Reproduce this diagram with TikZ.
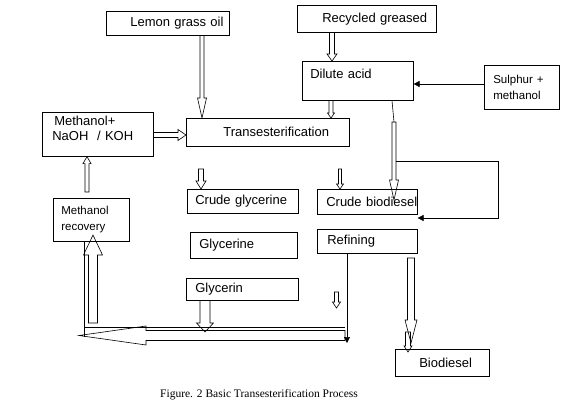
\documentclass[tikz,border=0pt]{standalone}
\usepackage{fontspec}
\setmainfont{Liberation Serif}
\setsansfont{Liberation Sans}
\usetikzlibrary{calc,arrows.meta}

% hollow block arrow: from, to, half shaft, half head, head length
\newcommand{\hollowarrow}[5]{%
  \coordinate (hb) at ($(#2)!#5!(#1)$);
  \draw ($(#1)!#3!90:(#2)$) -- ($(hb)!#3!90:(#2)$) -- ($(hb)!#4!90:(#2)$) -- (#2)
    -- ($(hb)!#4!-90:(#2)$) -- ($(hb)!#3!-90:(#2)$) -- ($(#1)!#3!-90:(#2)$) -- cycle;
}

\begin{document}
\begin{tikzpicture}[x=1pt, y=-1pt, line width=0.6pt,
  box/.style = {draw, anchor=north west, inner xsep=0pt, inner ysep=0pt, align=left,
    font=\sffamily\fontsize{13}{15}\selectfont},
  smallbox/.style = {box, font=\sffamily\fontsize{11.5}{16}\selectfont},
  tip/.style = {-{Triangle[length=6pt,width=6pt]}}]
\useasboundingbox (0,0) rectangle (567,409);

% boxes
\node[box, minimum height=24pt, text width=123pt] (lemon) at (106,11) {\hspace*{24pt}Lemon grass oil};
\node[box, minimum height=27pt, text width=139pt] (recyc) at (297,5) {\hspace*{25pt}Recycled greased};
\node[box, minimum height=39pt, text width=111pt] (dilute) at (302,61) {\hspace*{8pt}Dilute acid\\\mbox{}};
\node[smallbox, minimum height=44pt, text width=75pt] (sulphur) at (484,65) {\hspace*{9pt}Sulphur +\\\hspace*{9pt}methanol};
\node[box, minimum height=44pt, text width=111pt] (methnaoh) at (42,112) {\hspace*{12pt}Methanol+\\\hspace*{10pt}NaOH~ / KOH\\[-3pt]\mbox{}};
\node[box, minimum height=28pt, text width=163pt] (trans) at (186,118) {\hspace*{37pt}Transesterification};
\node[box, minimum height=24pt, text width=111pt] (crudeg) at (187,189) {\hspace*{8pt}Crude glycerine};
\node[box, minimum height=25pt, text width=100pt] (crudeb) at (317,189) {\hspace*{9pt}\mbox{Crude biodiesel}};
\node[smallbox, minimum height=43pt, text width=76pt] (methrec) at (53,198) {\hspace*{8pt}Methanol\\\hspace*{8pt}recovery};
\node[box, minimum height=26pt, text width=107pt] (glyce) at (190,232) {\hspace*{9pt}Glycerine};
\node[box, minimum height=24pt, text width=100pt] (refin) at (317,229) {\hspace*{10pt}Refining};
\node[box, minimum height=22pt, text width=112pt] (glycn) at (186,278) {\hspace*{9pt}Glycerin};
\node[box, minimum height=27pt, text width=94pt] (biod) at (395,349) {\hspace*{24pt}Biodiesel};
\node[font=\rmfamily\fontsize{11.5}{13}\selectfont] (caption) at (259,395) {Figure. 2 Basic Transesterification Process};

% free ends
\coordinate (recup) at (87,192);
\coordinate (transout) at (201,169);
\coordinate (acidout) at (394,122);
\coordinate (acidtip) at (394,200);
\coordinate (biotop) at (340,169);
\coordinate (refout) at (411,258);
\coordinate (reftip) at (411,343);
\coordinate (bioin) at (408,332);
\coordinate (biotip) at (408,352);
\coordinate (backend) at (345,335.5);
\coordinate (backtip) at (79,335.5);
\coordinate (recfoot) at (93,323);
\coordinate (rectip) at (93,235);
\coordinate (glytip) at (205,332);
\coordinate (refdrop) at (336.5,292);
\coordinate (refdroptip) at (336.5,308);
\coordinate (loopstart) at (396,161);
\coordinate (refend) at (347,343);

% block arrows
\hollowarrow{lemon.south -| 202,0}{trans.north -| 202,0}{2pt}{4.5pt}{20pt}
\hollowarrow{methnaoh.east |- 0,135}{trans.west |- 0,135}{2.5pt}{5.5pt}{8pt}
\hollowarrow{recup}{methnaoh.south -| 87,0}{2pt}{4pt}{7pt}
\hollowarrow{transout}{crudeg.north -| 201,0}{2.5pt}{5pt}{8pt}
\hollowarrow{recyc.south -| 332,0}{dilute.north -| 332,0}{2.5pt}{5pt}{7pt}
\hollowarrow{dilute.south -| 331,0}{trans.north -| 331,0}{2pt}{3.5pt}{5pt}
\hollowarrow{acidout}{acidtip}{2pt}{4.5pt}{20pt}
\hollowarrow{biotop}{crudeb.north -| 340,0}{1.5pt}{3.5pt}{5pt}
\hollowarrow{refout}{reftip}{3.5pt}{6pt}{23pt}
\hollowarrow{bioin}{biotip}{2.5pt}{4pt}{6pt}
\hollowarrow{backend}{backtip}{5pt}{9.5pt}{67pt}
\hollowarrow{recfoot}{rectip}{4.5pt}{9.5pt}{20pt}
\hollowarrow{glycn.south -| 205,0}{glytip}{5pt}{8.5pt}{9pt}
\hollowarrow{refdrop}{refdroptip}{2pt}{4pt}{6pt}

% plain lines
\draw[tip] (sulphur.west |- 0,84) -- (dilute.east |- 0,84);
\draw (dilute.south -| 392,0) -- (acidout);
\draw[tip] (loopstart) -- (498,161) -- (498,218) -- (crudeb.south east |- 0,218);
\draw[tip] (refin.south -| 347,0) -- (refend);
\draw (methrec.south -| 84,0) -- (84,337);
\draw (84,327) -- (backend |- 0,327);
\end{tikzpicture}
\end{document}
